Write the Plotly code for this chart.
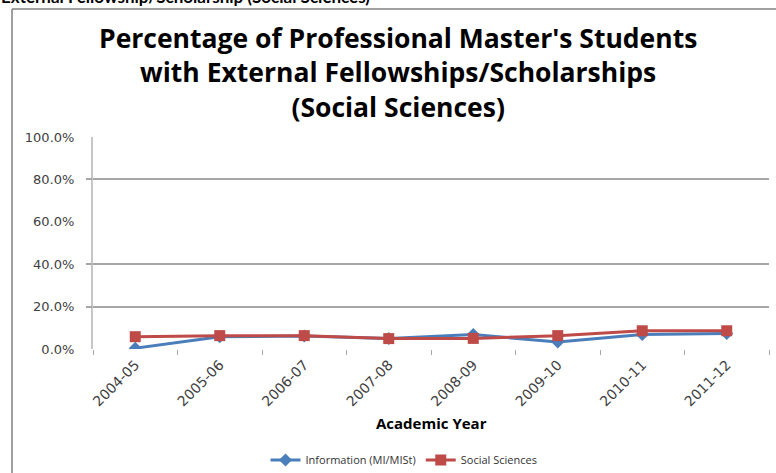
import plotly.graph_objects as go

years = ["2004-05", "2005-06", "2006-07", "2007-08", "2008-09", "2009-10", "2010-11", "2011-12"]
information = [0.004, 0.058, 0.061, 0.050, 0.068, 0.033, 0.068, 0.073]
social_sciences = [0.058, 0.063, 0.063, 0.049, 0.050, 0.063, 0.086, 0.086]
y_ticks = [0, 0.2, 0.4, 0.6, 0.8, 1.0]
grid_ticks = [0.2, 0.4, 0.8]
title_text = ("Percentage of Professional Master's Students<br>"
              "with External Fellowships/Scholarships<br>"
              "(Social Sciences)")

W, H = 776, 473
L, R, T, B = 93, 7, 137, 124
pw, ph = W - L - R, H - T - B

def px_x(x):
    return (x - L) / pw

def px_y(y):
    return (H - B - y) / ph

FONT = "'Open Sans', sans-serif"
TICKFONT = "'DejaVu Sans', sans-serif"

fig = go.Figure()
fig.add_trace(go.Scatter(
    x=years, y=information, name="Information (MI/MISt)", mode="lines+markers",
    line=dict(color="#4A7EBB", width=3),
    marker=dict(symbol="diamond", size=10, color="#4A7EBB"),
))
fig.add_trace(go.Scatter(
    x=years, y=social_sciences, name="Social Sciences", mode="lines+markers",
    line=dict(color="#BE4B48", width=3),
    marker=dict(symbol="square", size=11, color="#BE4B48"),
))
fig.add_trace(go.Scatter(x=years, y=[None] * len(years), yaxis="y2", showlegend=False, hoverinfo="skip"))

annotations = [
    dict(text=title_text, xref="paper", yref="paper", x=px_x(398), y=px_y(72.5),
         xanchor="center", yanchor="middle", showarrow=False,
         font=dict(family=FONT, size=26.5, color="#000000", weight="bold")),
    dict(text="Academic Year", xref="paper", yref="paper", x=px_x(431), y=px_y(423),
         xanchor="center", yanchor="middle", showarrow=False,
         font=dict(family=FONT, size=15, color="#000000", weight="bold")),
    dict(text="External Fellowship/Scholarship (Social Sciences)", xref="paper", yref="paper",
         x=px_x(-1), y=px_y(-3.5), xanchor="left", yanchor="middle", showarrow=False,
         font=dict(family="Lato, sans-serif", size=17, color="#000000", weight="bold")),
]

fig.update_layout(
    width=W, height=H,
    margin=dict(l=L, r=R, t=T, b=B, autoexpand=False),
    paper_bgcolor="white", plot_bgcolor="rgba(0,0,0,0)",
    font=dict(family=FONT, color="#404040"),
    showlegend=True,
    legend=dict(orientation="h", x=px_x(404), xanchor="center", y=px_y(460), yanchor="middle",
                font=dict(family=FONT, size=11, color="#333333"), tracegroupgap=0),
    xaxis=dict(
        type="category", range=[-0.5, len(years) - 0.5], automargin=False,
        showgrid=False, showline=False, zeroline=False,
        ticks="outside", tickson="boundaries", ticklen=5, tickcolor="#a6a6a6", tickwidth=1,
        tickangle=-45, tickfont=dict(family=TICKFONT, size=14, color="#404040"),
        ticklabelstandoff=4,
    ),
    yaxis=dict(
        range=[0, 1.0], tickvals=y_ticks, tickformat=".1%", automargin=False,
        showgrid=False, zeroline=False,
        showline=True, linecolor="#c6c6c6", linewidth=2,
        ticks="", tickfont=dict(family=TICKFONT, size=13, color="#404040"), ticklabelstandoff=14,
        layer="below traces",
    ),
    yaxis2=dict(
        overlaying="y", side="left", range=[0, 1.0], tickvals=grid_ticks, automargin=False,
        showticklabels=False, showgrid=True, gridcolor="#a6a6a6", gridwidth=1.5,
        ticks="outside", ticklen=6, tickcolor="#a6a6a6", tickwidth=1.5,
        zeroline=False, showline=False, layer="below traces",
    ),
    annotations=annotations,
    shapes=[
        dict(type="line", xref="paper", yref="paper", x0=px_x(12), x1=px_x(12), y0=px_y(480), y1=px_y(9),
             line=dict(color="#808080", width=1.5)),
        dict(type="line", xref="paper", yref="paper", x0=px_x(12), x1=px_x(790), y0=px_y(9), y1=px_y(9),
             line=dict(color="#808080", width=1.5)),
    ],
)

fig.write_html("out.html")
